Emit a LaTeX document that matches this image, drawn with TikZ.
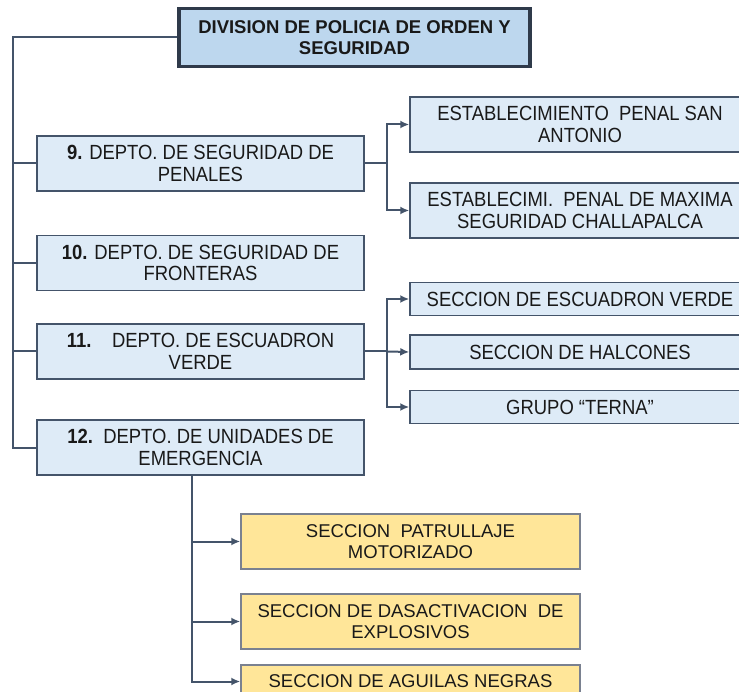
\documentclass[tikz,border=0pt]{standalone}
\usepackage{fontspec}
\setmainfont{Liberation Sans}
\newfontfamily\narrowsans[FakeStretch=0.9]{Liberation Sans}
\usetikzlibrary{arrows.meta,calc}
\definecolor{bfill}{HTML}{DEEBF7}
\definecolor{tfill}{HTML}{BDD7EE}
\definecolor{yfill}{HTML}{FFE699}
\definecolor{edge}{HTML}{44546A}
\definecolor{tedge}{HTML}{2F3A4A}
\definecolor{yedge}{HTML}{7A8190}
\begin{document}
\begin{tikzpicture}[x=1pt,y=-1pt,
  txt/.style={font=\fontsize{18.5}{21.5}\selectfont, align=center, inner sep=0pt, text=black!90},
  ntxt/.style={txt, font=\narrowsans\fontsize{20.5}{21.5}\selectfont},
  bbox/.style={ntxt, draw=edge, line width=1.5pt, fill=bfill, minimum width=327pt, minimum height=55pt},
  rbox/.style={ntxt, draw=edge, line width=1.5pt, fill=bfill, minimum width=340pt},
  tbox/.style={txt, font=\fontsize{18.5}{21.5}\selectfont\bfseries, draw=tedge, line width=3.5pt, fill=tfill, minimum width=351pt, minimum height=58pt},
  ybox/.style={txt, draw=yedge, line width=1.5pt, fill=yfill, minimum width=339pt},
  conn/.style={draw=edge, line width=2pt},
  arr/.style={conn, -{Latex[length=9pt,width=8pt]}}]
\useasboundingbox (0,0) rectangle (739,692);
% title
\node[tbox] (title) at (354.5,37.5) {DIVISION DE POLICIA DE ORDEN Y\\SEGURIDAD};
% left departments
\node[bbox] (b9) at (200.5,163.5) {\textbf{9.} DEPTO. DE SEGURIDAD DE\\PENALES};
\node[bbox] (b10) at (200.5,263) {\textbf{10.} DEPTO. DE SEGURIDAD DE\\FRONTERAS};
\node[bbox] (b11) at (200.5,351.5) {\textbf{11.}\ \ \ \ DEPTO. DE ESCUADRON\\VERDE};
\node[bbox] (b12) at (200.5,447.5) {\textbf{12.}\ \ DEPTO. DE UNIDADES DE\\EMERGENCIA};
% right boxes
\node[rbox, minimum height=55pt] (r1) at (580,124.5) {ESTABLECIMIENTO\ \ PENAL SAN\\ANTONIO};
\node[rbox, minimum height=55pt] (r2) at (580,210.5) {ESTABLECIMI.\ \ PENAL DE MAXIMA\\SEGURIDAD CHALLAPALCA};
\node[rbox, minimum height=33pt] (r3) at (580,299) {SECCION DE ESCUADRON VERDE};
\node[rbox, minimum height=34pt] (r4) at (580,352) {SECCION DE HALCONES};
\node[rbox, minimum height=33pt] (r5) at (580,407) {GRUPO “TERNA”};
% yellow boxes
\node[ybox, minimum height=55pt] (y1) at (410.5,541.5) {SECCION\ \ PATRULLAJE\\MOTORIZADO};
\node[ybox, minimum height=55pt] (y2) at (410.5,621.5) {SECCION DE DASACTIVACION\ \ DE\\EXPLOSIVOS};
\node[ybox, minimum height=33pt] (y3) at (410.5,681.5) {SECCION DE AGUILAS NEGRAS};
% trunk
\coordinate (tr) at (13,37.5);
\draw[conn] (title.west) -- (tr) |- (b12.west);
\draw[conn] (tr |- b9.west) -- (b9.west);
\draw[conn] (tr |- b10.west) -- (b10.west);
\draw[conn] (tr |- b11.west) -- (b11.west);
% bracket 9
\coordinate (k9) at (387,163.5);
\draw[conn] (b9.east) -- (k9);
\draw[arr] (k9) |- (r1.west);
\draw[arr] (k9) |- (r2.west);
% bracket 11
\coordinate (k11) at (387,351.5);
\draw[conn] (b11.east) -- (k11);
\draw[arr] (k11) |- (r3.west);
\draw[arr] (k11) -- (r4.west);
\draw[arr] (k11) |- (r5.west);
% emergency
\coordinate (v) at ([xshift=-8.5pt]b12.south);
\draw[arr] (v) |- (y1.west);
\draw[arr] (v) |- (y2.west);
\draw[arr] (v) |- (y3.west);
\end{tikzpicture}
\end{document}
